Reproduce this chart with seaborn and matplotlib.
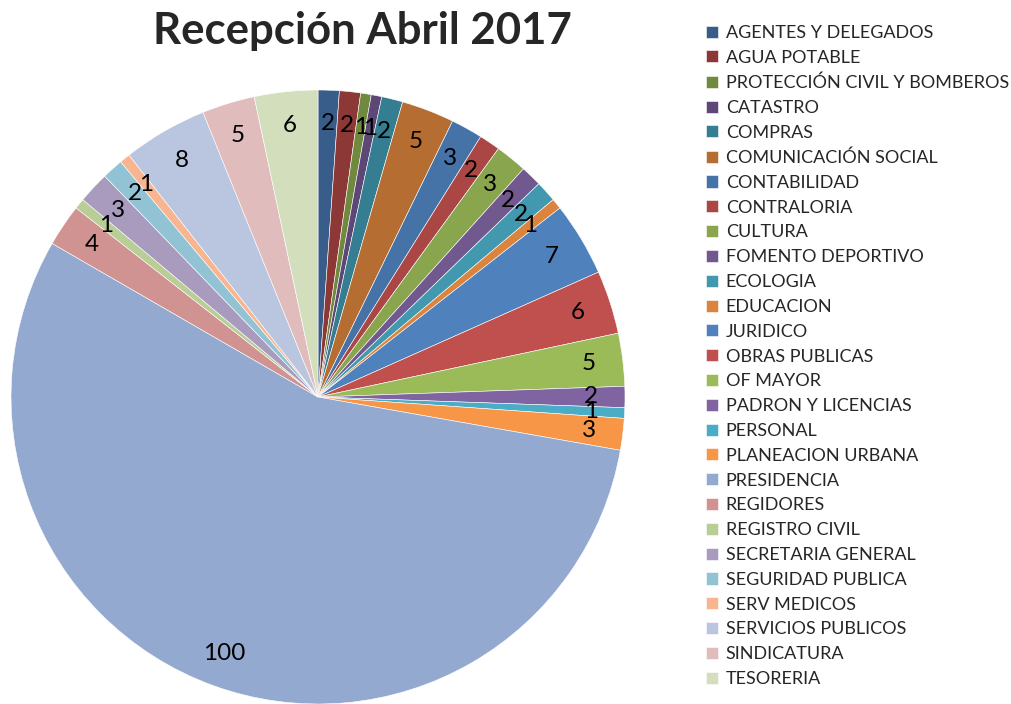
import seaborn as sns
import matplotlib.pyplot as plt

# data
categorias = ["AGENTES Y DELEGADOS", "AGUA POTABLE", "PROTECCIÓN CIVIL Y BOMBEROS", "CATASTRO",
              "COMPRAS", "COMUNICACIÓN SOCIAL", "CONTABILIDAD", "CONTRALORIA", "CULTURA",
              "FOMENTO DEPORTIVO", "ECOLOGIA", "EDUCACION", "JURIDICO", "OBRAS PUBLICAS",
              "OF MAYOR", "PADRON Y LICENCIAS", "PERSONAL", "PLANEACION URBANA", "PRESIDENCIA",
              "REGIDORES", "REGISTRO CIVIL", "SECRETARIA GENERAL", "SEGURIDAD PUBLICA",
              "SERV MEDICOS", "SERVICIOS PUBLICOS", "SINDICATURA", "TESORERIA"]
valores = [2, 2, 1, 1, 2, 5, 3, 2, 3, 2, 2, 1, 7, 6, 5, 2, 1, 3, 100, 4, 1, 3, 2, 1, 8, 5, 6]

colores = ["#385D8A", "#8C3836", "#71893F", "#5C4776", "#357D91", "#B66D31",
           "#4573A7", "#AA4643", "#89A54E", "#71588F", "#4198AF", "#DB843D",
           "#4F81BD", "#C0504D", "#9BBB59", "#8064A2", "#4BACC6", "#F79646",
           "#93A9CF", "#D19392", "#B9CD96", "#A99BBD", "#91C3D5", "#F9B590",
           "#BAC5DF", "#E0BCBC", "#D3DFBC"]

sns.set_theme(style="white")
plt.rcParams["font.family"] = ["Lato", "DejaVu Sans"]
palette = sns.color_palette(colores)

total = sum(valores)

fig = plt.figure(figsize=(10.12, 7.04), dpi=100)
ax = fig.add_axes([11 / 1012, 0.0, 614 / 1012, 614 / 704])

wedges, texts, autotexts = ax.pie(
    valores, colors=palette, startangle=90, counterclock=False,
    autopct=lambda p: f"{round(p * total / 100)}", pctdistance=0.89,
    wedgeprops=dict(edgecolor="white", linewidth=0.4),
    textprops=dict(fontsize=17.5, color="black"), radius=1.0)
ax.set_xlim(-1, 1)
ax.set_ylim(-1, 1)
ax.set_aspect("equal")

fig.text(362 / 1012, 1 - 31 / 704, "Recepción Abril 2017", ha="center", va="center",
         fontsize=31.5, fontweight="bold")

fig.legend(wedges, categorias, loc="upper left", bbox_to_anchor=(706 / 1012, 1 - 25 / 704),
           frameon=False, fontsize=13, handlelength=0.65, handleheight=0.65,
           handletextpad=0.45, labelspacing=0.488, borderaxespad=0, borderpad=0)

fig.savefig("out.png", dpi=100)
